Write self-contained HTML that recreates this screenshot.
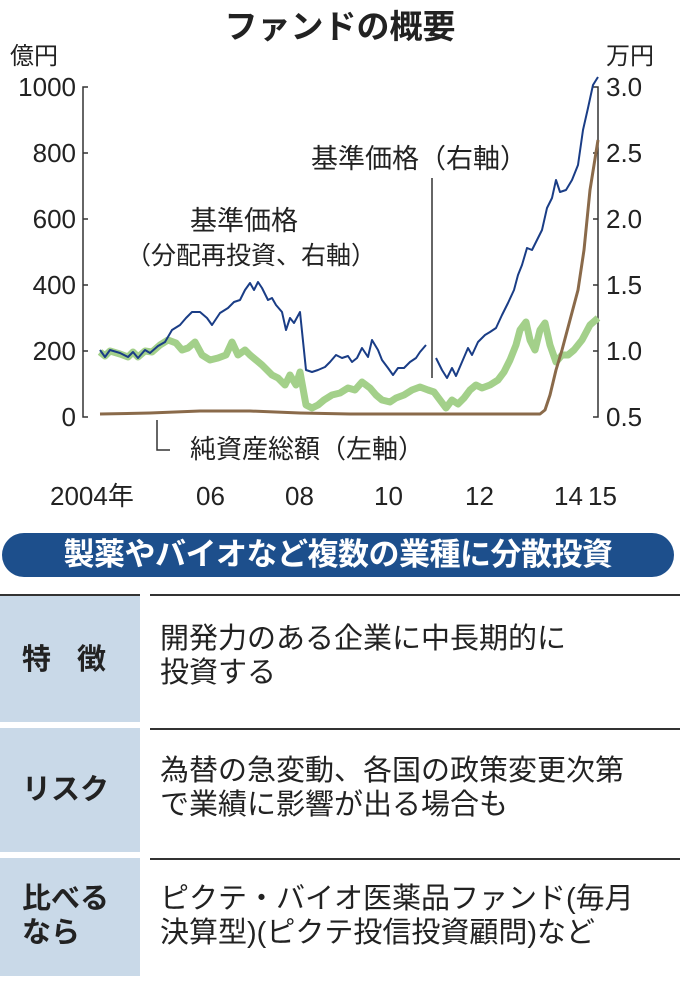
<!DOCTYPE html>
<html><head><meta charset="utf-8"><style>
body{margin:0;background:#fff;width:680px;height:984px;overflow:hidden;font-family:"Liberation Sans","Noto Sans CJK JP",sans-serif;color:#222}
.t{position:absolute;white-space:nowrap}
.hdr{position:absolute;left:2px;top:533px;width:672px;height:44px;background:#1d4f8c;border-radius:22px;color:#fff;font-weight:bold;font-size:31px;line-height:44px;text-align:center;letter-spacing:-0.5px}
.lc{position:absolute;left:0;width:140px;background:#c9d9e8;font-weight:bold;font-size:29px;color:#222}
.rc{position:absolute;left:150px;width:530px;border-top:2px solid #333;font-size:29px;line-height:34px;color:#222}
</style></head><body>
<div class="t" style="left:0;width:680px;text-align:center;top:0px;font-size:33px;font-weight:bold">ファンドの概要</div>
<div class="t" style="left:10px;top:36px;font-size:24px">億円</div>
<div class="t" style="left:606px;top:36px;font-size:24px">万円</div>
<svg width="680" height="520" style="position:absolute;left:0;top:0" font-family="Liberation Sans, sans-serif" font-size="26" fill="#222">
<g stroke="#333" stroke-width="1.5" fill="none">
<path d="M88 87H83V417H88 M83 153H88 M83 219H88 M83 285H88 M83 351H88"/>
<path d="M593 87H598V417H593 M598 153H593 M598 219H593 M598 285H593 M598 351H593"/>
<path d="M432 178V378"/>
<path d="M157 420V450H170"/>
</g>
<g text-anchor="end"><text x="76" y="96">1000</text><text x="76" y="162">800</text><text x="76" y="228">600</text><text x="76" y="294">400</text><text x="76" y="360">200</text><text x="76" y="426">0</text></g>
<g><text x="606" y="96">3.0</text><text x="606" y="162">2.5</text><text x="606" y="228">2.0</text><text x="606" y="294">1.5</text><text x="606" y="360">1.0</text><text x="606" y="426">0.5</text></g>
<polyline fill="none" stroke="#a3d08a" stroke-width="7" stroke-linejoin="round" points="100,352 105,356 110,351 120,354 128,357 133,352 138,357 145,351 152,352 160,345 168,340 176,343 182,350 188,348 195,342 202,355 210,360 218,358 226,355 232,342 238,355 245,350 250,355 256,360 262,365 272,375 278,378 285,385 290,375 296,385 300,372 306,405 312,408 318,405 324,400 332,395 340,393 348,388 355,390 362,382 370,388 376,395 382,400 390,402 396,398 404,395 412,390 420,387 428,390 434,392 440,400 446,408 452,400 458,404 464,398 470,390 476,385 482,388 490,385 498,380 504,372 510,360 516,345 520,330 526,322 530,340 535,350 540,330 545,323 550,345 556,362 562,355 568,355 574,350 582,340 590,325 598,318"/>
<polyline fill="none" stroke="#1a3d86" stroke-width="2" stroke-linejoin="round" points="100,350 105,357 110,350 120,353 128,357 133,352 138,358 145,350 150,353 158,346 165,342 172,330 180,325 186,318 192,312 200,312 207,318 212,325 220,313 228,308 234,302 240,300 245,290 250,283 254,290 258,282 262,288 268,300 272,298 276,305 282,312 286,330 290,318 294,323 300,312 306,370 312,372 318,370 325,367 330,362 336,355 342,358 348,356 352,362 357,358 362,348 368,357 372,340 378,350 382,360 388,368 393,375 398,368 404,368 410,362 416,358 420,352 426,345"/>
<polyline fill="none" stroke="#1a3d86" stroke-width="2" stroke-linejoin="round" points="436,358 442,370 447,378 452,368 456,376 462,362 468,348 472,355 478,342 485,335 490,332 496,328 502,315 508,303 514,290 518,275 522,265 527,248 532,250 537,240 542,230 547,208 552,198 556,180 560,192 566,190 572,180 578,165 583,130 588,108 593,85 598,77"/>
<polyline fill="none" stroke="#8a6a4a" stroke-width="3" stroke-linejoin="round" points="100,414 150,413 200,411 250,411 300,413 350,414 540,414 545,410 550,395 556,370 562,350 570,320 578,290 584,250 590,190 598,140"/>
<g font-family="Liberation Sans, Noto Sans CJK JP, sans-serif">
<text x="311" y="168" font-size="27">基準価格（右軸）</text>
<text x="190" y="230" font-size="27">基準価格</text>
<text x="126" y="264" font-size="25">（分配再投資、右軸）</text>
<text x="190" y="458" font-size="26">純資産総額（左軸）</text>
<text x="50" y="505" font-size="26">2004年</text>
<text x="196" y="505">06</text><text x="285" y="505">08</text><text x="374" y="505">10</text><text x="465" y="505">12</text><text x="554" y="505">14</text><text x="588" y="505">15</text>
</g>
</svg>
<div class="hdr">製薬やバイオなど複数の業種に分散投資</div>
<div class="lc" style="top:594px;height:128px;border-top:2px solid #333;line-height:128px;padding-left:22px;box-sizing:border-box;letter-spacing:26px">特徴</div>
<div class="rc" style="top:594px;height:126px;padding:26px 0 0 10px;box-sizing:border-box">開発力のある企業に中長期的に<br>投資する</div>
<div class="lc" style="top:728px;height:124px;line-height:124px;padding-left:22px;box-sizing:border-box">リスク</div>
<div class="rc" style="top:728px;height:124px;padding:24px 0 0 10px;box-sizing:border-box">為替の急変動、各国の政策変更次第<br>で業績に影響が出る場合も</div>
<div class="lc" style="top:858px;height:118px;padding:24px 0 0 22px;box-sizing:border-box;line-height:34px">比べる<br>なら</div>
<div class="rc" style="top:858px;height:118px;padding:22px 0 0 10px;box-sizing:border-box">ピクテ・バイオ医薬品ファンド(毎月<br>決算型)(ピクテ投信投資顧問)など</div>
</body></html>
